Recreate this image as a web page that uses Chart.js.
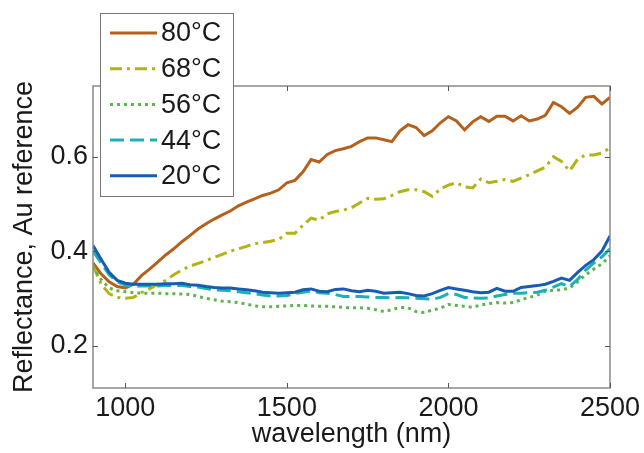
<!DOCTYPE html>
<html>
<head>
<meta charset="utf-8">
<script src="https://cdn.jsdelivr.net/npm/chart.js@4"></script>
<style>
  html, body { margin: 0; padding: 0; background: #fff; }
</style>
</head>
<body>
<canvas id="chart" width="644" height="453"></canvas>
<script>
// Wavelength grid (nm)
const wavelengths = [
  900, 925, 950, 975, 1000, 1025, 1050, 1075, 1100, 1125, 1150, 1175, 1200,
  1225, 1250, 1275, 1300, 1325, 1350, 1375, 1400, 1425, 1450, 1475, 1500,
  1525, 1550, 1575, 1600, 1625, 1650, 1675, 1700, 1725, 1750, 1775, 1800,
  1825, 1850, 1875, 1900, 1925, 1950, 1975, 2000, 2025, 2050, 2075, 2100,
  2125, 2150, 2175, 2200, 2225, 2250, 2275, 2300, 2325, 2350, 2375, 2400,
  2425, 2450, 2475, 2500
];

const r80 = [
  0.375, 0.352, 0.335, 0.325, 0.322, 0.330, 0.348, 0.362, 0.377, 0.392, 0.405, 0.420, 0.433,
  0.447, 0.458, 0.468, 0.477, 0.485, 0.496, 0.504, 0.511, 0.518, 0.523, 0.530, 0.545,
  0.550, 0.568, 0.594, 0.589, 0.605, 0.613, 0.617, 0.622, 0.632, 0.640, 0.640, 0.636,
  0.632, 0.655, 0.668, 0.662, 0.645, 0.655, 0.672, 0.685, 0.676, 0.657, 0.674, 0.685,
  0.675, 0.686, 0.686, 0.676, 0.687, 0.676, 0.680, 0.688, 0.715, 0.706, 0.692, 0.705,
  0.726, 0.728, 0.712, 0.726
];

const r68 = [
  0.370, 0.330, 0.310, 0.302, 0.300, 0.302, 0.312, 0.320, 0.330, 0.338, 0.350, 0.360, 0.368,
  0.374, 0.380, 0.387, 0.393, 0.400, 0.405, 0.410, 0.416, 0.418, 0.421, 0.425, 0.438,
  0.438, 0.455, 0.470, 0.466, 0.479, 0.484, 0.487, 0.492, 0.502, 0.512, 0.510, 0.511,
  0.518, 0.526, 0.530, 0.530, 0.526, 0.516, 0.532, 0.540, 0.545, 0.536, 0.534, 0.553,
  0.545, 0.548, 0.552, 0.548, 0.555, 0.562, 0.570, 0.578, 0.600, 0.590, 0.570, 0.595,
  0.604, 0.604, 0.608, 0.619
];

const r56 = [
  0.368, 0.340, 0.322, 0.316, 0.314, 0.312, 0.311, 0.311, 0.311, 0.310, 0.310, 0.309, 0.308,
  0.304, 0.300, 0.297, 0.294, 0.293, 0.291, 0.288, 0.284, 0.282, 0.282, 0.283, 0.284,
  0.285, 0.285, 0.284, 0.283, 0.283, 0.282, 0.281, 0.280, 0.280, 0.279, 0.276, 0.272,
  0.276, 0.281, 0.280, 0.272, 0.270, 0.275, 0.279, 0.287, 0.285, 0.283, 0.281, 0.286,
  0.289, 0.291, 0.290, 0.291, 0.297, 0.302, 0.307, 0.315, 0.317, 0.318, 0.322, 0.335,
  0.350, 0.362, 0.373, 0.390
];

const r44 = [
  0.400, 0.375, 0.350, 0.335, 0.328, 0.326, 0.326, 0.326, 0.326, 0.327, 0.327, 0.327, 0.325,
  0.324, 0.321, 0.318, 0.317, 0.316, 0.314, 0.312, 0.310, 0.307, 0.305, 0.305, 0.306,
  0.310, 0.313, 0.316, 0.312, 0.311, 0.308, 0.304, 0.304, 0.304, 0.303, 0.302, 0.302,
  0.301, 0.302, 0.301, 0.300, 0.299, 0.298, 0.302, 0.310, 0.308, 0.302, 0.301, 0.300,
  0.301, 0.305, 0.308, 0.311, 0.311, 0.312, 0.313, 0.317, 0.324, 0.331, 0.325, 0.340,
  0.360, 0.375, 0.388, 0.405
];

const r20 = [
  0.412, 0.383, 0.355, 0.338, 0.332, 0.330, 0.330, 0.330, 0.330, 0.331, 0.331, 0.332, 0.329,
  0.328, 0.325, 0.323, 0.322, 0.322, 0.320, 0.318, 0.316, 0.313, 0.312, 0.311, 0.312,
  0.313, 0.318, 0.320, 0.315, 0.314, 0.319, 0.320, 0.316, 0.314, 0.317, 0.315, 0.311,
  0.312, 0.313, 0.310, 0.306, 0.305, 0.310, 0.317, 0.323, 0.320, 0.317, 0.314, 0.312,
  0.313, 0.321, 0.315, 0.315, 0.323, 0.325, 0.327, 0.330, 0.336, 0.343, 0.338, 0.355,
  0.370, 0.382, 0.400, 0.432
];

const xTicks = [1000, 1500, 2000, 2500];
const yTicks = [0.2, 0.4, 0.6];

const series = [
  { label: "80°C", values: r80, color: "rgb(181,96,28)", dash: [], order: 4 },
  { label: "68°C", values: r68, color: "rgb(178,180,22)", dash: [12, 5, 3, 5], order: 3 },
  { label: "56°C", values: r56, color: "rgb(96,178,82)", dash: [3, 4], order: 2 },
  { label: "44°C", values: r44, color: "rgb(28,178,180)", dash: [14, 6], order: 1 },
  { label: "20°C", values: r20, color: "rgb(22,92,180)", dash: [], order: 0 },
];

const fontFamily = "'Liberation Sans', Arial, Helvetica, sans-serif";
const textColor = "#1a1a1a";

// white background, box with inward ticks (MATLAB style)
const framePlugin = {
  id: "frame",
  beforeDraw(chart) {
    const ctx = chart.ctx;
    ctx.save();
    ctx.fillStyle = "#fff";
    ctx.fillRect(0, 0, chart.width, chart.height);
    ctx.restore();
  },
  afterDatasetsDraw(chart) {
    const { ctx, chartArea, scales } = chart;
    const { left, right, top, bottom } = chartArea;
    ctx.save();
    ctx.strokeStyle = "#8a8a8a";
    ctx.lineWidth = 1.5;
    ctx.strokeRect(left, top, right - left, bottom - top);
    ctx.strokeStyle = "#555";
    ctx.lineWidth = 1;
    ctx.beginPath();
    xTicks.forEach((v) => {
      const px = Math.round(scales.x.getPixelForValue(v)) + 0.5;
      ctx.moveTo(px, bottom);
      ctx.lineTo(px, bottom - 5);
      ctx.moveTo(px, top);
      ctx.lineTo(px, top + 5);
    });
    yTicks.forEach((v) => {
      const py = Math.round(scales.y.getPixelForValue(v)) + 0.5;
      ctx.moveTo(left, py);
      ctx.lineTo(left + 5, py);
      ctx.moveTo(right, py);
      ctx.lineTo(right - 5, py);
    });
    ctx.stroke();
    ctx.restore();
  },
};

// legend box drawn over the top-left of the plot
const legendPlugin = {
  id: "boxLegend",
  afterDraw(chart) {
    const ctx = chart.ctx;
    const box = { x: 100.5, y: 13.5, w: 133, h: 183 };
    ctx.save();
    ctx.fillStyle = "#fff";
    ctx.fillRect(box.x, box.y, box.w, box.h);
    ctx.strokeStyle = "#777";
    ctx.lineWidth = 1;
    ctx.strokeRect(box.x, box.y, box.w, box.h);
    ctx.font = "27px " + fontFamily;
    ctx.textBaseline = "middle";
    ctx.fillStyle = textColor;
    series.forEach((s, i) => {
      const y = 33 + i * 35.7;
      ctx.beginPath();
      ctx.strokeStyle = s.color;
      ctx.lineWidth = 3;
      ctx.setLineDash(s.dash);
      ctx.moveTo(110, y);
      ctx.lineTo(157, y);
      ctx.stroke();
      ctx.setLineDash([]);
      ctx.fillText(s.label, 161, y + 1);
    });
    ctx.restore();
  },
};

const tickFont = { family: fontFamily, size: 27 };

new Chart(document.getElementById("chart"), {
  type: "line",
  data: {
    datasets: series.map((s) => ({
      label: s.label,
      data: wavelengths.map((w, i) => ({ x: w, y: s.values[i] })),
      borderColor: s.color,
      borderWidth: 3,
      borderDash: s.dash,
      pointRadius: 0,
      tension: 0,
      fill: false,
      order: s.order,
    })),
  },
  options: {
    responsive: false,
    devicePixelRatio: 1,
    animation: false,
    layout: { padding: { top: 86, right: 33, left: 0, bottom: 0 } },
    plugins: {
      legend: { display: false },
      tooltip: { enabled: false },
    },
    scales: {
      x: {
        type: "linear",
        min: 900,
        max: 2500,
        afterBuildTicks: (scale) => {
          scale.ticks = xTicks.map((v) => ({ value: v }));
        },
        afterFit: (scale) => {
          scale.height = 65;
        },
        grid: { display: false, drawTicks: false },
        border: { display: false },
        ticks: {
          font: tickFont,
          color: textColor,
          padding: 4,
          maxRotation: 0,
          autoSkip: false,
          callback: (v) => String(v),
        },
        title: {
          display: true,
          text: "wavelength (nm)",
          font: tickFont,
          color: textColor,
          padding: { top: 0, bottom: 2 },
        },
      },
      y: {
        min: 0.11,
        max: 0.75,
        afterBuildTicks: (scale) => {
          scale.ticks = yTicks.map((v) => ({ value: v }));
        },
        afterFit: (scale) => {
          scale.width = 93;
        },
        grid: { display: false, drawTicks: false },
        border: { display: false },
        ticks: {
          font: tickFont,
          color: textColor,
          padding: 5,
          callback: (v) => v.toFixed(1),
        },
        title: {
          display: true,
          text: "Reflectance, Au reference",
          font: tickFont,
          color: textColor,
          padding: { top: 8, bottom: 0 },
        },
      },
    },
  },
  plugins: [framePlugin, legendPlugin],
});
</script>
</body>
</html>
